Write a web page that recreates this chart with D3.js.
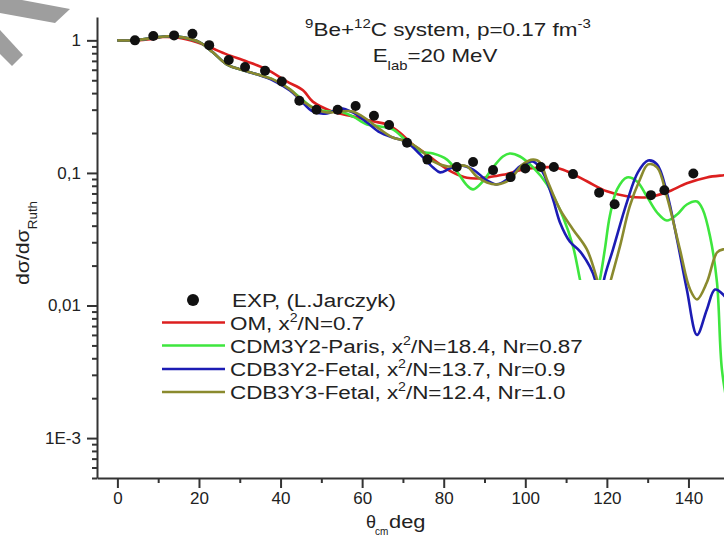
<!DOCTYPE html>
<meta charset="utf-8">
<style>

body {
  margin: 0;
  background: #fff;
}

svg {
  display: block;
  font-family: "Liberation Sans", Arial, sans-serif;
}

.axis path,
.axis line {
  stroke: #333;
  stroke-width: 2px;
}

.axis text {
  font-size: 17px;
  fill: #222;
}

.curve {
  fill: none;
  stroke-width: 2.6px;
}

</style>
<body>
<script src="https://cdn.jsdelivr.net/npm/d3@7"></script>
<script>

var w = 724,
    h = 538;

// experimental points (deg, dsigma/dsigma_Ruth)
var expAngle = [4.3, 8.8, 13.9, 18.4, 22.5, 27.3, 31.3, 36.2, 40.3, 44.6, 48.8, 54.0, 58.4, 62.9, 66.6,
                71.0, 76.0, 83.2, 87.2, 92.1, 96.4, 100.0, 103.8, 107.0, 111.7, 118.1, 121.9, 130.8, 134.1, 141.2];
var expValue = [1.00, 1.08, 1.09, 1.12, 0.92, 0.71, 0.63, 0.59, 0.49, 0.35, 0.30, 0.30, 0.32, 0.27, 0.23,
                0.169, 0.126, 0.111, 0.121, 0.105, 0.093, 0.108, 0.111, 0.111, 0.098, 0.071, 0.058, 0.068, 0.074, 0.099];

var omCurve = [[0, 1.0], [4.3, 1.0], [8, 1.02], [11.2, 1.06], [14.6, 1.05], [19.5, 0.966], [22.7, 0.886],
  [26.8, 0.784], [31.7, 0.694], [36.6, 0.604], [41.5, 0.49], [45.5, 0.42], [47.9, 0.345], [52.8, 0.29],
  [57.7, 0.267], [62.6, 0.245], [66.1, 0.232], [69.2, 0.202], [72.4, 0.164], [75.9, 0.138], [79.1, 0.116],
  [82.2, 0.101], [85.7, 0.092], [88.9, 0.091], [92.0, 0.094], [95.5, 0.098], [98.7, 0.105], [103.6, 0.110],
  [107.3, 0.110], [110.2, 0.103], [115.1, 0.0865], [120.0, 0.0727], [124.9, 0.0667], [129.8, 0.0655],
  [134.7, 0.0714], [139.6, 0.0835], [144.5, 0.0925], [148.7, 0.096], [152, 0.098]];

var parisCurve = [[0, 1.0], [4.3, 1.0], [8, 1.035], [12.1, 1.072], [16.1, 1.053], [20.2, 0.966], [23.4, 0.812],
  [26.8, 0.659], [30, 0.604], [34.2, 0.554], [38.1, 0.508], [42.3, 0.427], [44.7, 0.371], [47.9, 0.312],
  [51.4, 0.291], [54.6, 0.291], [57.7, 0.267], [61.2, 0.232], [64.4, 0.224], [67.5, 0.213], [71, 0.173],
  [74.2, 0.145], [77.4, 0.14], [80.8, 0.126], [83.2, 0.103], [85.7, 0.0805], [87.2, 0.0751], [89.6, 0.0863],
  [92.1, 0.11], [94.5, 0.133], [96.2, 0.14], [98.7, 0.133], [101.9, 0.11], [105.3, 0.082], [109.2, 0.0469],
  [111.7, 0.0279], [113.4, 0.0157], [115.8, 0.007], [118.3, 0.0157], [119.5, 0.0265], [120.7, 0.0469],
  [122.5, 0.0751], [124.9, 0.0925], [127.4, 0.0863], [129.8, 0.0665], [132.3, 0.0503], [134.7, 0.0438],
  [137.2, 0.0486], [139.6, 0.0578], [142.1, 0.0609], [143.5, 0.053], [145.3, 0.0332], [147, 0.0149],
  [148.2, 0.0033], [150, 0.0015]];

var fetal2Curve = [[0, 1.0], [4.3, 1.0], [8, 1.035], [12.1, 1.072], [16.1, 1.053], [20.2, 0.966], [23.4, 0.812],
  [26.8, 0.659], [30, 0.604], [34.2, 0.554], [38.1, 0.5], [42.3, 0.419], [44.7, 0.359], [47.9, 0.291],
  [51.4, 0.281], [54.6, 0.307], [57.7, 0.286], [61.2, 0.24], [64.4, 0.202], [67.5, 0.185], [71, 0.17],
  [74.2, 0.138], [77.4, 0.11], [79.1, 0.101], [81.5, 0.108], [84, 0.114], [87.2, 0.106], [90.6, 0.0878],
  [93, 0.0819], [95.5, 0.0893], [98.7, 0.112], [101.9, 0.122], [104.3, 0.101], [106.8, 0.0631], [108.5, 0.0423],
  [110.9, 0.0304], [113.4, 0.0256], [115.8, 0.0197], [117.1, 0.0157], [118.3, 0.0093], [119.3, 0.0157],
  [121.5, 0.0265], [124.9, 0.0599], [127.6, 0.101], [130.1, 0.124], [132.3, 0.116], [134.7, 0.0712],
  [137.2, 0.0315], [139.6, 0.0132], [142.1, 0.006], [144.5, 0.0093], [146.5, 0.0132], [148.5, 0.0121],
  [151, 0.009]];

var fetal3Curve = [[0, 1.0], [4.3, 1.0], [8, 1.035], [12.1, 1.072], [16.1, 1.053], [20.2, 0.966], [23.4, 0.812],
  [26.8, 0.659], [30, 0.604], [34.2, 0.554], [38.1, 0.508], [42.3, 0.427], [45.5, 0.346], [48.9, 0.301],
  [51.4, 0.286], [54.6, 0.291], [57.7, 0.291], [61.2, 0.253], [64.4, 0.213], [67.5, 0.185], [71, 0.173],
  [74.2, 0.15], [77.4, 0.122], [80.8, 0.112], [83.2, 0.114], [85.7, 0.112], [88.1, 0.0941], [90.6, 0.0848],
  [93, 0.0819], [96.2, 0.0893], [99.4, 0.116], [101.9, 0.126], [103.6, 0.12], [105.3, 0.0893], [108.5, 0.053],
  [111.7, 0.0375], [115.1, 0.0265], [117.6, 0.0157], [119.3, 0.01], [121, 0.0157], [123.2, 0.0279],
  [125.6, 0.0559], [128.1, 0.0893], [130.1, 0.116], [132.3, 0.11], [134.7, 0.0665], [137.9, 0.0265],
  [140.4, 0.0132], [142.1, 0.0111], [144.5, 0.0149], [147, 0.0251], [148.5, 0.0265], [151, 0.026]];

var xMajor = [0, 20, 40, 60, 80, 100, 120, 140],
    xMinor = [10, 30, 50, 70, 90, 110, 130, 150];
var yMajor = [1, 0.1, 0.01, 0.001],
    yLabels = ["1", "0,1", "0,01", "1E-3"];

var series = [
  {data: omCurve, color: "#dc1f1f", label: [["OM, x"], ["2", "sup"], ["/N=0.7"]]},
  {data: parisCurve, color: "#3ee63e", label: [["CDM3Y2-Paris, x"], ["2", "sup"], ["/N=18.4, Nr=0.87"]]},
  {data: fetal2Curve, color: "#1c1cb4", label: [["CDB3Y2-Fetal, x"], ["2", "sup"], ["/N=13.7, Nr=0.9"]]},
  {data: fetal3Curve, color: "#8a8a2e", label: [["CDB3Y3-Fetal, x"], ["2", "sup"], ["/N=12.4, Nr=1.0"]]}
];

var x = d3.scaleLinear().domain([-5, 160]).range([97, 97 + 165 * 4.079]),
    y = d3.scaleLog().domain([5e-4, 1.5]).range([478, 17]);

var svg = d3.select("body").append("svg")
    .attr("width", w)
    .attr("height", h);

// grey corner marks
svg.append("g")
    .style("fill", "#9e9e9e")
  .selectAll("polygon")
    .data([[[0, 0], [22, 0], [70, 9], [55, 23], [0, 13]], [[0, 30], [23, 55], [12, 66], [0, 54]]])
  .enter().append("polygon")
    .attr("points", function(d) { return d.join(" "); });

svg.append("defs").append("clipPath")
    .attr("id", "plot")
  .append("rect")
    .attr("x", 97).attr("y", 17)
    .attr("width", w - 97).attr("height", 478 - 17);

var line = d3.line()
    .x(function(d) { return x(d[0]); })
    .y(function(d) { return y(d[1]); })
    .curve(d3.curveCatmullRom.alpha(0.5));

var plot = svg.append("g").attr("clip-path", "url(#plot)");

plot.selectAll(".curve")
    .data(series)
  .enter().append("path")
    .attr("class", "curve")
    .style("stroke", function(d) { return d.color; })
    .attr("d", function(d) { return line(d.data); });

plot.selectAll(".dot")
    .data(expAngle)
  .enter().append("circle")
    .attr("class", "dot")
    .attr("cx", function(d) { return x(d); })
    .attr("cy", function(d, i) { return y(expValue[i]); })
    .attr("r", 5)
    .style("fill", "#111");

// axes
svg.append("g")
    .attr("class", "axis")
    .attr("transform", "translate(0,478)")
    .call(d3.axisBottom(x).tickValues(xMajor).tickSize(10).tickSizeOuter(0).tickPadding(4));

svg.append("g")
    .attr("class", "axis")
    .attr("transform", "translate(0,478)")
    .call(d3.axisBottom(x).tickValues(xMinor).tickSize(5).tickFormat(""))
    .select(".domain").remove();

svg.append("g")
    .attr("class", "axis")
    .attr("transform", "translate(97,0)")
    .call(d3.axisLeft(y).tickValues(yMajor).tickSize(10).tickSizeOuter(0).tickPadding(6)
      .tickFormat(function(d, i) { return yLabels[i]; }));

var yMinor = [];
[1e-4, 1e-3, 1e-2, 1e-1].forEach(function(dec) {
  d3.range(2, 10).forEach(function(k) {
    var v = dec * k;
    if (v >= 5e-4 && v <= 1.5) yMinor.push(v);
  });
});

svg.append("g")
    .attr("class", "axis")
    .attr("transform", "translate(97,0)")
    .call(d3.axisLeft(y).tickValues(yMinor).tickSize(5).tickFormat(""))
    .select(".domain").remove();

// rich text helper (super/subscripts)
function rich(text, parts, size, small) {
  var shift = 0;
  parts.forEach(function(p) {
    var target = p[1] === "sup" ? -8 : p[1] === "sub" ? 8 : 0;
    text.append("tspan")
        .attr("dy", target - shift)
        .style("font-size", (p[1] ? small : size) + "px")
        .text(p[0]);
    shift = target;
  });
  return text;
}

// legend (opaque box hides curves below it)
var legend = svg.append("g");

legend.append("rect")
    .attr("x", 150).attr("y", 280)
    .attr("width", 468).attr("height", 135)
    .style("fill", "#fff");

var rowY = [300, 322.5, 345.5, 369, 392];

legend.append("circle")
    .attr("cx", 193).attr("cy", rowY[0])
    .attr("r", 6)
    .style("fill", "#111");

rich(legend.append("text")
    .attr("transform", "translate(232," + (rowY[0] + 7) + ")scale(1.18,1)")
    .style("fill", "#222"), [["EXP, (L.Jarczyk)"]], 19, 12);

series.forEach(function(s, i) {
  var yy = rowY[i + 1];
  legend.append("line")
      .attr("x1", 162).attr("x2", 225)
      .attr("y1", yy).attr("y2", yy)
      .style("stroke", s.color)
      .style("stroke-width", 2.6);
  rich(legend.append("text")
      .attr("transform", "translate(230," + (yy + 7) + ")scale(1.18,1)")
      .style("fill", "#222"), s.label, 19, 12);
});

// title
rich(svg.append("text")
    .attr("transform", "translate(448,36)scale(1.25,1)")
    .attr("text-anchor", "middle")
    .style("fill", "#222"),
  [["9", "sup"], ["Be+"], ["12", "sup"], ["C system, p=0.17 fm"], ["-3", "sup"]], 18, 12);

rich(svg.append("text")
    .attr("transform", "translate(435,62)scale(1.24,1)")
    .attr("text-anchor", "middle")
    .style("fill", "#222"),
  [["E"], ["lab", "sub"], ["=20 MeV"]], 18, 12);

// axis titles
rich(svg.append("text")
    .attr("transform", "translate(29,243)rotate(-90)scale(1.12,1)")
    .attr("text-anchor", "middle")
    .style("fill", "#222"),
  [["d\u03c3/d\u03c3"], ["Ruth", "sub"]], 19, 12);

svg.append("text")
    .attr("x", 366).attr("y", 528)
    .style("font-size", "18px")
    .style("fill", "#222")
    .text("\u03b8");

svg.append("text")
    .attr("x", 375).attr("y", 535)
    .style("font-size", "10px")
    .style("fill", "#222")
    .text("cm");

svg.append("text")
    .attr("transform", "translate(389,528)scale(1.15,1)")
    .style("font-size", "19px")
    .style("fill", "#222")
    .text("deg");

</script>
</body>
